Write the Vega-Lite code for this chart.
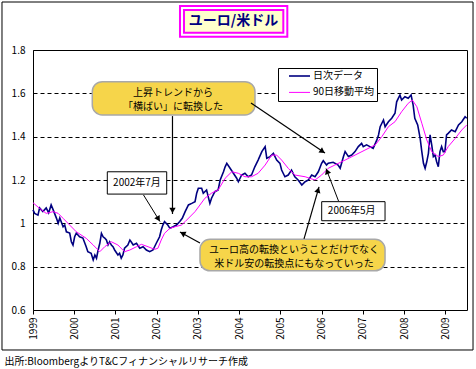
{
"$schema":"https://vega.github.io/schema/vega-lite/v6.json",
"width":434,"height":260,
"autosize":{"type":"none"},
"padding":{"left":33,"top":50,"right":9,"bottom":59},
"background":"white",
"config":{"font":"Noto Sans CJK JP","view":{"stroke":"black","strokeWidth":1},
"axis":{"labelFont":"Noto Sans CJK JP","labelFontSize":10,"labelColor":"black","titleColor":"black","titleFont":"Noto Sans CJK JP"},
"legend":{"labelFont":"Noto Sans CJK JP"}},
"datasets":{"fx":[
{"year":1999.00,"rate":1.062,"series":"日次データ"},
{"year":1999.04,"rate":1.046,"series":"日次データ"},
{"year":1999.12,"rate":1.038,"series":"日次データ"},
{"year":1999.16,"rate":1.071,"series":"日次データ"},
{"year":1999.24,"rate":1.054,"series":"日次データ"},
{"year":1999.32,"rate":1.071,"series":"日次データ"},
{"year":1999.38,"rate":1.048,"series":"日次データ"},
{"year":1999.44,"rate":1.085,"series":"日次データ"},
{"year":1999.49,"rate":1.062,"series":"日次データ"},
{"year":1999.57,"rate":1.023,"series":"日次データ"},
{"year":1999.61,"rate":1.000,"series":"日次データ"},
{"year":1999.65,"rate":1.025,"series":"日次データ"},
{"year":1999.73,"rate":0.984,"series":"日次データ"},
{"year":1999.77,"rate":0.992,"series":"日次データ"},
{"year":1999.81,"rate":0.961,"series":"日次データ"},
{"year":1999.89,"rate":0.955,"series":"日次データ"},
{"year":1999.93,"rate":0.915,"series":"日次データ"},
{"year":1999.97,"rate":0.900,"series":"日次データ"},
{"year":2000.01,"rate":0.938,"series":"日次データ"},
{"year":2000.05,"rate":0.955,"series":"日次データ"},
{"year":2000.13,"rate":0.938,"series":"日次データ"},
{"year":2000.21,"rate":0.932,"series":"日次データ"},
{"year":2000.29,"rate":0.892,"series":"日次データ"},
{"year":2000.33,"rate":0.869,"series":"日次データ"},
{"year":2000.41,"rate":0.862,"series":"日次データ"},
{"year":2000.46,"rate":0.831,"series":"日次データ"},
{"year":2000.50,"rate":0.854,"series":"日次データ"},
{"year":2000.54,"rate":0.839,"series":"日次データ"},
{"year":2000.58,"rate":0.877,"series":"日次データ"},
{"year":2000.62,"rate":0.908,"series":"日次データ"},
{"year":2000.66,"rate":0.954,"series":"日次データ"},
{"year":2000.70,"rate":0.938,"series":"日次データ"},
{"year":2000.74,"rate":0.932,"series":"日次データ"},
{"year":2000.78,"rate":0.923,"series":"日次データ"},
{"year":2000.82,"rate":0.900,"series":"日次データ"},
{"year":2000.86,"rate":0.915,"series":"日次データ"},
{"year":2000.90,"rate":0.900,"series":"日次データ"},
{"year":2000.94,"rate":0.892,"series":"日次データ"},
{"year":2000.98,"rate":0.877,"series":"日次データ"},
{"year":2001.06,"rate":0.854,"series":"日次データ"},
{"year":2001.10,"rate":0.862,"series":"日次データ"},
{"year":2001.14,"rate":0.839,"series":"日次データ"},
{"year":2001.18,"rate":0.854,"series":"日次データ"},
{"year":2001.22,"rate":0.885,"series":"日次データ"},
{"year":2001.30,"rate":0.900,"series":"日次データ"},
{"year":2001.35,"rate":0.923,"series":"日次データ"},
{"year":2001.38,"rate":0.915,"series":"日次データ"},
{"year":2001.43,"rate":0.900,"series":"日次データ"},
{"year":2001.51,"rate":0.908,"series":"日次データ"},
{"year":2001.59,"rate":0.885,"series":"日次データ"},
{"year":2001.67,"rate":0.892,"series":"日次データ"},
{"year":2001.75,"rate":0.877,"series":"日次データ"},
{"year":2001.83,"rate":0.869,"series":"日次データ"},
{"year":2001.91,"rate":0.877,"series":"日次データ"},
{"year":2001.99,"rate":0.908,"series":"日次データ"},
{"year":2002.07,"rate":0.938,"series":"日次データ"},
{"year":2002.11,"rate":0.969,"series":"日次データ"},
{"year":2002.15,"rate":0.992,"series":"日次データ"},
{"year":2002.19,"rate":1.008,"series":"日次データ"},
{"year":2002.27,"rate":0.992,"series":"日次データ"},
{"year":2002.32,"rate":0.977,"series":"日次データ"},
{"year":2002.40,"rate":0.984,"series":"日次データ"},
{"year":2002.48,"rate":0.992,"series":"日次データ"},
{"year":2002.56,"rate":1.008,"series":"日次データ"},
{"year":2002.62,"rate":1.023,"series":"日次データ"},
{"year":2002.69,"rate":1.054,"series":"日次データ"},
{"year":2002.77,"rate":1.085,"series":"日次データ"},
{"year":2002.85,"rate":1.092,"series":"日次データ"},
{"year":2002.93,"rate":1.100,"series":"日次データ"},
{"year":2002.97,"rate":1.139,"series":"日次データ"},
{"year":2003.01,"rate":1.162,"series":"日次データ"},
{"year":2003.09,"rate":1.162,"series":"日次データ"},
{"year":2003.13,"rate":1.139,"series":"日次データ"},
{"year":2003.21,"rate":1.154,"series":"日次データ"},
{"year":2003.29,"rate":1.092,"series":"日次データ"},
{"year":2003.33,"rate":1.116,"series":"日次データ"},
{"year":2003.41,"rate":1.146,"series":"日次データ"},
{"year":2003.49,"rate":1.154,"series":"日次データ"},
{"year":2003.54,"rate":1.200,"series":"日次データ"},
{"year":2003.62,"rate":1.238,"series":"日次データ"},
{"year":2003.66,"rate":1.261,"series":"日次データ"},
{"year":2003.70,"rate":1.277,"series":"日次データ"},
{"year":2003.78,"rate":1.254,"series":"日次データ"},
{"year":2003.86,"rate":1.231,"series":"日次データ"},
{"year":2003.94,"rate":1.208,"series":"日次データ"},
{"year":2003.98,"rate":1.192,"series":"日次データ"},
{"year":2004.06,"rate":1.223,"series":"日次データ"},
{"year":2004.14,"rate":1.231,"series":"日次データ"},
{"year":2004.22,"rate":1.215,"series":"日次データ"},
{"year":2004.30,"rate":1.223,"series":"日次データ"},
{"year":2004.38,"rate":1.261,"series":"日次データ"},
{"year":2004.46,"rate":1.292,"series":"日次データ"},
{"year":2004.55,"rate":1.331,"series":"日次データ"},
{"year":2004.63,"rate":1.354,"series":"日次データ"},
{"year":2004.67,"rate":1.300,"series":"日次データ"},
{"year":2004.75,"rate":1.308,"series":"日次データ"},
{"year":2004.83,"rate":1.323,"series":"日次データ"},
{"year":2004.91,"rate":1.292,"series":"日次データ"},
{"year":2004.99,"rate":1.277,"series":"日次データ"},
{"year":2005.03,"rate":1.246,"series":"日次データ"},
{"year":2005.11,"rate":1.215,"series":"日次データ"},
{"year":2005.19,"rate":1.223,"series":"日次データ"},
{"year":2005.27,"rate":1.246,"series":"日次データ"},
{"year":2005.35,"rate":1.215,"series":"日次データ"},
{"year":2005.43,"rate":1.200,"series":"日次データ"},
{"year":2005.52,"rate":1.177,"series":"日次データ"},
{"year":2005.60,"rate":1.192,"series":"日次データ"},
{"year":2005.68,"rate":1.200,"series":"日次データ"},
{"year":2005.76,"rate":1.223,"series":"日次データ"},
{"year":2005.84,"rate":1.215,"series":"日次データ"},
{"year":2005.92,"rate":1.238,"series":"日次データ"},
{"year":2006.00,"rate":1.277,"series":"日次データ"},
{"year":2006.04,"rate":1.289,"series":"日次データ"},
{"year":2006.12,"rate":1.269,"series":"日次データ"},
{"year":2006.16,"rate":1.277,"series":"日次データ"},
{"year":2006.28,"rate":1.282,"series":"日次データ"},
{"year":2006.40,"rate":1.269,"series":"日次データ"},
{"year":2006.45,"rate":1.254,"series":"日次データ"},
{"year":2006.53,"rate":1.308,"series":"日次データ"},
{"year":2006.57,"rate":1.331,"series":"日次データ"},
{"year":2006.65,"rate":1.308,"series":"日次データ"},
{"year":2006.73,"rate":1.315,"series":"日次データ"},
{"year":2006.81,"rate":1.331,"series":"日次データ"},
{"year":2006.89,"rate":1.354,"series":"日次データ"},
{"year":2006.97,"rate":1.369,"series":"日次データ"},
{"year":2007.01,"rate":1.354,"series":"日次データ"},
{"year":2007.09,"rate":1.362,"series":"日次データ"},
{"year":2007.17,"rate":1.354,"series":"日次データ"},
{"year":2007.25,"rate":1.346,"series":"日次データ"},
{"year":2007.34,"rate":1.385,"series":"日次データ"},
{"year":2007.38,"rate":1.408,"series":"日次データ"},
{"year":2007.42,"rate":1.446,"series":"日次データ"},
{"year":2007.50,"rate":1.477,"series":"日次データ"},
{"year":2007.54,"rate":1.446,"series":"日次データ"},
{"year":2007.62,"rate":1.469,"series":"日次データ"},
{"year":2007.70,"rate":1.485,"series":"日次データ"},
{"year":2007.78,"rate":1.508,"series":"日次データ"},
{"year":2007.82,"rate":1.561,"series":"日次データ"},
{"year":2007.86,"rate":1.577,"series":"日次データ"},
{"year":2007.90,"rate":1.592,"series":"日次データ"},
{"year":2007.94,"rate":1.569,"series":"日次データ"},
{"year":2008.02,"rate":1.584,"series":"日次データ"},
{"year":2008.10,"rate":1.577,"series":"日次データ"},
{"year":2008.17,"rate":1.592,"series":"日次データ"},
{"year":2008.22,"rate":1.546,"series":"日次データ"},
{"year":2008.26,"rate":1.485,"series":"日次データ"},
{"year":2008.33,"rate":1.454,"series":"日次データ"},
{"year":2008.39,"rate":1.392,"series":"日次データ"},
{"year":2008.43,"rate":1.331,"series":"日次データ"},
{"year":2008.47,"rate":1.277,"series":"日次データ"},
{"year":2008.51,"rate":1.254,"series":"日次データ"},
{"year":2008.55,"rate":1.284,"series":"日次データ"},
{"year":2008.59,"rate":1.323,"series":"日次データ"},
{"year":2008.63,"rate":1.408,"series":"日次データ"},
{"year":2008.67,"rate":1.362,"series":"日次データ"},
{"year":2008.71,"rate":1.308,"series":"日次データ"},
{"year":2008.75,"rate":1.315,"series":"日次データ"},
{"year":2008.79,"rate":1.284,"series":"日次データ"},
{"year":2008.83,"rate":1.261,"series":"日次データ"},
{"year":2008.87,"rate":1.331,"series":"日次データ"},
{"year":2008.91,"rate":1.354,"series":"日次データ"},
{"year":2008.95,"rate":1.331,"series":"日次データ"},
{"year":2008.99,"rate":1.331,"series":"日次データ"},
{"year":2009.03,"rate":1.408,"series":"日次データ"},
{"year":2009.07,"rate":1.415,"series":"日次データ"},
{"year":2009.15,"rate":1.431,"series":"日次データ"},
{"year":2009.24,"rate":1.423,"series":"日次データ"},
{"year":2009.32,"rate":1.454,"series":"日次データ"},
{"year":2009.40,"rate":1.469,"series":"日次データ"},
{"year":2009.48,"rate":1.492,"series":"日次データ"},
{"year":2009.52,"rate":1.485,"series":"日次データ"},
{"year":1999.00,"rate":1.095,"series":"90日移動平均"},
{"year":1999.16,"rate":1.069,"series":"90日移動平均"},
{"year":1999.32,"rate":1.046,"series":"90日移動平均"},
{"year":1999.49,"rate":1.054,"series":"90日移動平均"},
{"year":1999.61,"rate":1.046,"series":"90日移動平均"},
{"year":1999.73,"rate":1.023,"series":"90日移動平均"},
{"year":1999.89,"rate":0.992,"series":"90日移動平均"},
{"year":2000.05,"rate":0.961,"series":"90日移動平均"},
{"year":2000.29,"rate":0.931,"series":"90日移動平均"},
{"year":2000.46,"rate":0.900,"series":"90日移動平均"},
{"year":2000.62,"rate":0.869,"series":"90日移動平均"},
{"year":2000.74,"rate":0.892,"series":"90日移動平均"},
{"year":2000.90,"rate":0.915,"series":"90日移動平均"},
{"year":2001.06,"rate":0.900,"series":"90日移動平均"},
{"year":2001.22,"rate":0.869,"series":"90日移動平均"},
{"year":2001.35,"rate":0.877,"series":"90日移動平均"},
{"year":2001.51,"rate":0.892,"series":"90日移動平均"},
{"year":2001.63,"rate":0.903,"series":"90日移動平均"},
{"year":2001.79,"rate":0.892,"series":"90日移動平均"},
{"year":2001.95,"rate":0.880,"series":"90日移動平均"},
{"year":2002.03,"rate":0.885,"series":"90日移動平均"},
{"year":2002.11,"rate":0.923,"series":"90日移動平均"},
{"year":2002.19,"rate":0.954,"series":"90日移動平均"},
{"year":2002.32,"rate":0.977,"series":"90日移動平均"},
{"year":2002.44,"rate":0.984,"series":"90日移動平均"},
{"year":2002.60,"rate":0.992,"series":"90日移動平均"},
{"year":2002.69,"rate":1.008,"series":"90日移動平均"},
{"year":2002.93,"rate":1.054,"series":"90日移動平均"},
{"year":2003.17,"rate":1.116,"series":"90日移動平均"},
{"year":2003.33,"rate":1.139,"series":"90日移動平均"},
{"year":2003.49,"rate":1.154,"series":"90日移動平均"},
{"year":2003.66,"rate":1.208,"series":"90日移動平均"},
{"year":2003.82,"rate":1.238,"series":"90日移動平均"},
{"year":2003.98,"rate":1.231,"series":"90日移動平均"},
{"year":2004.14,"rate":1.215,"series":"90日移動平均"},
{"year":2004.30,"rate":1.215,"series":"90日移動平均"},
{"year":2004.46,"rate":1.231,"series":"90日移動平均"},
{"year":2004.63,"rate":1.269,"series":"90日移動平均"},
{"year":2004.79,"rate":1.315,"series":"90日移動平均"},
{"year":2004.91,"rate":1.315,"series":"90日移動平均"},
{"year":2005.03,"rate":1.292,"series":"90日移動平均"},
{"year":2005.19,"rate":1.254,"series":"90日移動平均"},
{"year":2005.35,"rate":1.223,"series":"90日移動平均"},
{"year":2005.60,"rate":1.215,"series":"90日移動平均"},
{"year":2005.84,"rate":1.200,"series":"90日移動平均"},
{"year":2006.00,"rate":1.223,"series":"90日移動平均"},
{"year":2006.16,"rate":1.254,"series":"90日移動平均"},
{"year":2006.32,"rate":1.269,"series":"90日移動平均"},
{"year":2006.57,"rate":1.292,"series":"90日移動平均"},
{"year":2006.81,"rate":1.315,"series":"90日移動平均"},
{"year":2007.05,"rate":1.338,"series":"90日移動平均"},
{"year":2007.30,"rate":1.362,"series":"90日移動平均"},
{"year":2007.46,"rate":1.400,"series":"90日移動平均"},
{"year":2007.62,"rate":1.446,"series":"90日移動平均"},
{"year":2007.78,"rate":1.469,"series":"90日移動平均"},
{"year":2007.94,"rate":1.515,"series":"90日移動平均"},
{"year":2008.10,"rate":1.554,"series":"90日移動平均"},
{"year":2008.20,"rate":1.569,"series":"90日移動平均"},
{"year":2008.31,"rate":1.538,"series":"90日移動平均"},
{"year":2008.43,"rate":1.462,"series":"90日移動平均"},
{"year":2008.55,"rate":1.385,"series":"90日移動平均"},
{"year":2008.67,"rate":1.331,"series":"90日移動平均"},
{"year":2008.83,"rate":1.308,"series":"90日移動平均"},
{"year":2008.95,"rate":1.315,"series":"90日移動平均"},
{"year":2009.07,"rate":1.354,"series":"90日移動平均"},
{"year":2009.24,"rate":1.392,"series":"90日移動平均"},
{"year":2009.40,"rate":1.431,"series":"90日移動平均"},
{"year":2009.52,"rate":1.454,"series":"90日移動平均"}
]},
"layer":[
{"data":{"name":"fx"},"mark":{"type":"line","interpolate":"linear"},
 "encoding":{
  "x":{"field":"year","type":"quantitative","scale":{"domain":[1999,2009.526],"nice":false,"zero":false},
   "axis":{"values":[1999,2000,2001,2002,2003,2004,2005,2006,2007,2008,2009],"format":"d","labelAngle":270,"labelAlign":"right","labelBaseline":"middle","ticks":true,"tickSize":4,"tickColor":"black","labelPadding":3,"grid":false,"domain":false,"labelFontSize":10,
    "title":"出所:BloombergよりT&Cフィナンシャルリサーチ作成","titleX":-29,"titleY":51,"titleAlign":"left","titleAnchor":"start","titleBaseline":"middle","titleFontSize":10,"titleFontWeight":"normal"}},
  "y":{"field":"rate","type":"quantitative","scale":{"domain":[0.6,1.8],"nice":false,"zero":false},
   "axis":{"values":[0.6,0.8,1,1.2,1.4,1.6,1.8],"format":"~g","title":null,"ticks":false,"tickSize":0,"labelPadding":8,"domain":false,"grid":true,"gridDash":[4,3],"gridColor":"black","gridWidth":1,"gridOpacity":1,"labelFontSize":10}},
  "color":{"field":"series","type":"nominal","scale":{"domain":["日次データ","90日移動平均"],"range":["#000080","#ff00ff"]},
   "legend":{"title":null,"orient":"none","legendX":245,"legendY":18,"symbolType":"stroke","symbolSize":441,"symbolStrokeWidth":1.5,"fillColor":"white","strokeColor":"black","padding":2,"clipHeight":12,"labelFontSize":10,"rowPadding":4.4,"labelColor":"black","labelLimit":200,"symbolOffset":8,"labelOffset":2}},
  "strokeWidth":{"field":"series","type":"nominal","scale":{"domain":["日次データ","90日移動平均"],"range":[1.6,1]},"legend":null}
 }},
{"data":{"values":[{}]},"mark":{"type":"rect","fill":null,"stroke":"black","strokeWidth":1},
 "encoding":{"x":{"datum":1998.248,"type":"quantitative"},"x2":{"datum":2009.672},"y":{"datum":2.0215,"type":"quantitative"},"y2":{"datum":0.4154}}},
{"data":{"values":[{}]},"mark":{"type":"rect","fill":"white","stroke":"#ff00ff","strokeWidth":2},
 "encoding":{"x":{"datum":2002.565,"type":"quantitative"},"x2":{"datum":2005.168},"y":{"datum":2.003,"type":"quantitative"},"y2":{"datum":1.861}}},
{"data":{"values":[{}]},"mark":{"type":"rect","fill":"#ffffcc","stroke":"#ff00ff","strokeWidth":2},
 "encoding":{"x":{"datum":2002.662,"type":"quantitative"},"x2":{"datum":2005.071},"y":{"datum":1.985,"type":"quantitative"},"y2":{"datum":1.880}}},
{"data":{"values":[{}]},"mark":{"type":"text","text":"ユーロ/米ドル","fontSize":14,"fontWeight":"bold","color":"#000080","align":"center","baseline":"middle"},
 "encoding":{"x":{"datum":2003.863,"type":"quantitative"},"y":{"datum":1.932,"type":"quantitative"}}},
{"data":{"values":[{}]},"mark":{"type":"rect","fill":"#f6d54a","stroke":"#a8a8a8","strokeWidth":1.5,"cornerRadius":10},
 "encoding":{"x":{"datum":2000.438,"type":"quantitative"},"x2":{"datum":2004.384},"y":{"datum":1.654,"type":"quantitative"},"y2":{"datum":1.500}}},
{"data":{"values":[{}]},"mark":{"type":"rect","fill":"#f6d54a","stroke":"#a8a8a8","strokeWidth":1.5,"cornerRadius":10},
 "encoding":{"x":{"datum":2003.050,"type":"quantitative"},"x2":{"datum":2007.538},"y":{"datum":0.926,"type":"quantitative"},"y2":{"datum":0.781}}},
{"data":{"values":[{}]},"mark":{"type":"rect","fill":"white","stroke":"black","strokeWidth":1},
 "encoding":{"x":{"datum":2000.802,"type":"quantitative"},"x2":{"datum":2002.243},"y":{"datum":1.238,"type":"quantitative"},"y2":{"datum":1.135}}},
{"data":{"values":[{}]},"mark":{"type":"rect","fill":"white","stroke":"black","strokeWidth":1},
 "encoding":{"x":{"datum":2006.002,"type":"quantitative"},"x2":{"datum":2007.538},"y":{"datum":1.100,"type":"quantitative"},"y2":{"datum":1.012}}},
{"data":{"values":[{}]},"mark":{"type":"rule","stroke":"black","strokeWidth":1.2},
 "encoding":{"x":{"datum":2002.383,"type":"quantitative"},"x2":{"datum":2002.383},"y":{"datum":1.495,"type":"quantitative"},"y2":{"datum":1.043}}},
{"data":{"values":[{}]},"mark":{"type":"rule","stroke":"black","strokeWidth":1.2},
 "encoding":{"x":{"datum":2004.287,"type":"quantitative"},"x2":{"datum":2006.082},"y":{"datum":1.555,"type":"quantitative"},"y2":{"datum":1.325}}},
{"data":{"values":[{}]},"mark":{"type":"rule","stroke":"black","strokeWidth":1},
 "encoding":{"x":{"datum":2001.680,"type":"quantitative"},"x2":{"datum":2002.080},"y":{"datum":1.131,"type":"quantitative"},"y2":{"datum":1.008}}},
{"data":{"values":[{}]},"mark":{"type":"rule","stroke":"black","strokeWidth":1},
 "encoding":{"x":{"datum":2006.410,"type":"quantitative"},"x2":{"datum":2006.107},"y":{"datum":1.103,"type":"quantitative"},"y2":{"datum":1.253}}},
{"data":{"values":[{}]},"mark":{"type":"rule","stroke":"black","strokeWidth":1.2},
 "encoding":{"x":{"datum":2003.050,"type":"quantitative"},"x2":{"datum":2002.565},"y":{"datum":0.909,"type":"quantitative"},"y2":{"datum":0.960}}},
{"data":{"values":[{}]},"mark":{"type":"rule","stroke":"black","strokeWidth":1.2},
 "encoding":{"x":{"datum":2005.573,"type":"quantitative"},"x2":{"datum":2005.937},"y":{"datum":0.928,"type":"quantitative"},"y2":{"datum":1.168}}},
{"data":{"values":[{}]},"mark":{"type":"point","shape":"triangle-up","filled":true,"color":"black","opacity":1,"size":40,"angle":180},
 "encoding":{"x":{"datum":2002.383,"type":"quantitative"},"y":{"datum":1.059,"type":"quantitative"}}},
{"data":{"values":[{}]},"mark":{"type":"point","shape":"triangle-up","filled":true,"color":"black","opacity":1,"size":40,"angle":124},
 "encoding":{"x":{"datum":2006.022,"type":"quantitative"},"y":{"datum":1.332,"type":"quantitative"}}},
{"data":{"values":[{}]},"mark":{"type":"point","shape":"triangle-up","filled":true,"color":"black","opacity":1,"size":40,"angle":148.6},
 "encoding":{"x":{"datum":2002.041,"type":"quantitative"},"y":{"datum":1.020,"type":"quantitative"}}},
{"data":{"values":[{}]},"mark":{"type":"point","shape":"triangle-up","filled":true,"color":"black","opacity":1,"size":40,"angle":-21},
 "encoding":{"x":{"datum":2006.133,"type":"quantitative"},"y":{"datum":1.240,"type":"quantitative"}}},
{"data":{"values":[{}]},"mark":{"type":"point","shape":"triangle-up","filled":true,"color":"black","opacity":1,"size":40,"angle":-61},
 "encoding":{"x":{"datum":2002.628,"type":"quantitative"},"y":{"datum":0.954,"type":"quantitative"}}},
{"data":{"values":[{}]},"mark":{"type":"point","shape":"triangle-up","filled":true,"color":"black","opacity":1,"size":40,"angle":16.7},
 "encoding":{"x":{"datum":2005.915,"type":"quantitative"},"y":{"datum":1.154,"type":"quantitative"}}},
{"data":{"values":[{}]},"mark":{"type":"text","text":"上昇トレンドから","fontSize":10,"align":"center","baseline":"middle","color":"black"},
 "encoding":{"x":{"datum":2002.395,"type":"quantitative"},"y":{"datum":1.601,"type":"quantitative"}}},
{"data":{"values":[{}]},"mark":{"type":"text","text":"「横ばい」に転換した","fontSize":10,"align":"center","baseline":"middle","color":"black"},
 "encoding":{"x":{"datum":2002.395,"type":"quantitative"},"y":{"datum":1.539,"type":"quantitative"}}},
{"data":{"values":[{}]},"mark":{"type":"text","text":"ユーロ高の転換ということだけでなく","fontSize":10,"align":"center","baseline":"middle","color":"black"},
 "encoding":{"x":{"datum":2005.330,"type":"quantitative"},"y":{"datum":0.875,"type":"quantitative"}}},
{"data":{"values":[{}]},"mark":{"type":"text","text":"米ドル安の転換点にもなっていった","fontSize":10,"align":"center","baseline":"middle","color":"black"},
 "encoding":{"x":{"datum":2005.330,"type":"quantitative"},"y":{"datum":0.812,"type":"quantitative"}}},
{"data":{"values":[{}]},"mark":{"type":"text","text":"2002年7月","fontSize":10,"align":"center","baseline":"middle","color":"black"},
 "encoding":{"x":{"datum":2001.522,"type":"quantitative"},"y":{"datum":1.186,"type":"quantitative"}}},
{"data":{"values":[{}]},"mark":{"type":"text","text":"2006年5月","fontSize":10,"align":"center","baseline":"middle","color":"black"},
 "encoding":{"x":{"datum":2006.730,"type":"quantitative"},"y":{"datum":1.058,"type":"quantitative"}}}
]
}
